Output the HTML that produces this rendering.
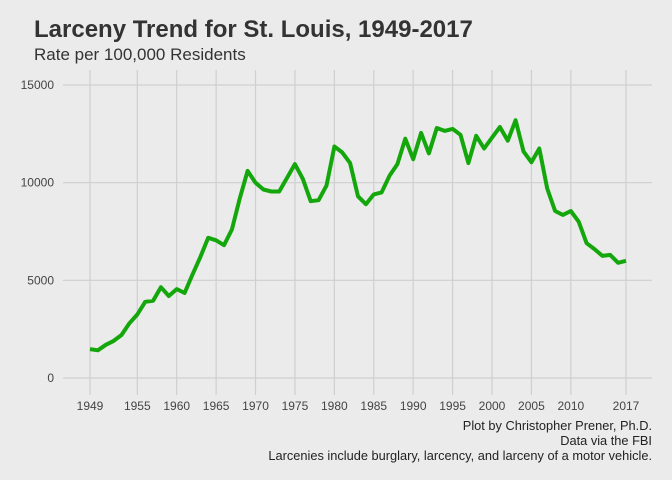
<!DOCTYPE html>
<html><head><meta charset="utf-8"><style>
body{margin:0;background:#ebebeb;font-family:"Liberation Sans",sans-serif;}
svg{display:block}
</style></head><body>
<svg width="672" height="480">
<rect width="672" height="480" fill="#ebebeb"/>
<text x="34" y="37" font-size="24" font-weight="bold" fill="#333">Larceny Trend for St. Louis, 1949-2017</text>
<text x="34" y="60" font-size="17" fill="#333">Rate per 100,000 Residents</text>
<g id="grid"></g>
<path id="line" fill="none" stroke="#14a70c" stroke-width="4" stroke-linejoin="round"/>
<g id="axes" font-size="12" fill="#444"></g>
<g font-size="12.8" fill="#222" text-anchor="end">
<text x="652" y="430">Plot by Christopher Prener, Ph.D.</text>
<text x="652" y="445">Data via the FBI</text>
<text x="652" y="460">Larcenies include burglary, larcency, and larceny of a motor vehicle.</text>
</g>
</svg>
<script>
const years=[];for(let y=1949;y<=2017;y++)years.push(y);
const rates=[1480,1420,1700,1900,2200,2800,3250,3900,3950,4650,4200,4550,4350,5300,6200,7180,7050,6800,7600,9200,10600,10000,9650,9550,9550,10250,10950,10200,9050,9100,9850,11850,11550,11000,9300,8900,9400,9500,10350,10950,12250,11200,12550,11500,12800,12650,12750,12450,11000,12400,11750,12300,12850,12150,13200,11600,11050,11750,9700,8550,8350,8550,8000,6900,6600,6250,6300,5900,6000];
const xTicks=[1949,1955,1960,1965,1970,1975,1980,1985,1990,1995,2000,2005,2010,2017];
const yTicks=[0,5000,10000,15000];
const X=v=>90+(v-1949)*(626-90)/68;
const Y=v=>378-v*(378-85)/15000;
const NS="http://www.w3.org/2000/svg";
const grid=document.getElementById('grid'),axes=document.getElementById('axes');
function mk(tag,attrs,parent){const e=document.createElementNS(NS,tag);for(const k in attrs)e.setAttribute(k,attrs[k]);parent.appendChild(e);return e;}
yTicks.forEach(t=>{
 const l=mk('line',{x1:63,x2:652,y1:Y(t),y2:Y(t),stroke:'#cfcfcf','stroke-width':1.2},grid);
 
 
 const tx=mk('text',{x:54,y:Y(t)+4,'text-anchor':'end'},axes);tx.textContent=t;
 
 
});
xTicks.forEach(t=>{
 const l=mk('line',{x1:X(t),x2:X(t),y1:70,y2:395,stroke:'#cfcfcf','stroke-width':1.2},grid);
 
 
 const tx=mk('text',{x:X(t),y:410,'text-anchor':'middle'},axes);tx.textContent=t;
 
 
});
document.getElementById('line').setAttribute('d',years.map((y,i)=>(i?'L':'M')+X(y).toFixed(1)+','+Y(rates[i]).toFixed(1)).join(''));
</script>
</body></html>
